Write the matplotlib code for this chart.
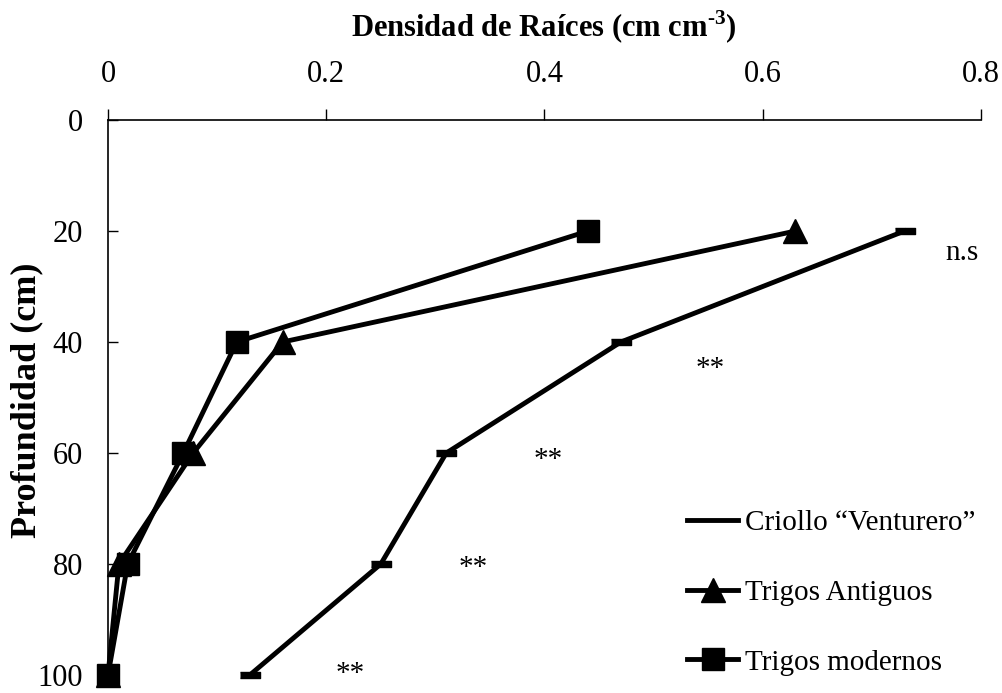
import matplotlib
matplotlib.use("Agg")
import matplotlib.pyplot as plt

# depth (cm) and root length density (cm cm-3)
depth = [20, 40, 60, 80, 100]
criollo = [0.73, 0.47, 0.31, 0.25, 0.13]
antiguos = [0.63, 0.16, 0.078, 0.01, 0.0]
modernos = [0.44, 0.118, 0.069, 0.018, 0.0]

# significance labels next to each depth
sig_labels = ["n.s", "**", "**", "**", "**"]
sig_x = [0.783, 0.552, 0.403, 0.335, 0.222]
sig_y = [24.0, 44.8, 61.3, 80.8, 99.8]

plt.rcParams['font.family'] = ['Liberation Serif', 'DejaVu Serif']

fig = plt.figure(figsize=(10.03, 6.93), dpi=100)
ax = fig.add_axes([0.1077, 0.026, 0.978 - 0.1077, 0.8268 - 0.026])

# flat dash marker for the criollo series
dash = [(-1.5, -0.5), (1.5, -0.5), (1.5, 0.5), (-1.5, 0.5)]

ax.plot(criollo, depth, color='black', lw=3.5, marker=dash, ms=15,
        label='Criollo \u201cVenturero\u201d', clip_on=False)
ax.plot(antiguos, depth, color='black', lw=3.5, marker='^', ms=17,
        label='Trigos Antiguos', clip_on=False)
ax.plot(modernos, depth, color='black', lw=3.5, marker='s', ms=16,
        label='Trigos modernos', clip_on=False)

for lab, x, y in zip(sig_labels, sig_x, sig_y):
    ax.text(x, y, lab, fontsize=21, ha='center', va='center')

ax.set_xlim(0, 0.8)
ax.set_ylim(100, 0)
ax.set_xticks([0, 0.2, 0.4, 0.6, 0.8])
ax.set_xticklabels(['0', '0.2', '0.4', '0.6', '0.8'])
ax.set_yticks([0, 20, 40, 60, 80, 100])

ax.xaxis.tick_top()
ax.tick_params(axis='x', direction='out', length=8, width=1, pad=14, labelsize=22)
ax.tick_params(axis='y', direction='in', length=7, width=1, pad=18, labelsize=22)

ax.spines['right'].set_visible(False)
ax.spines['bottom'].set_visible(False)
ax.spines['top'].set_linewidth(1.2)
ax.spines['left'].set_linewidth(1.2)

fig.text(0.5425, 1 - 27 / 693, 'Densidad de Ra\u00edces (cm cm$^{\\mathregular{\u20103}}$)',
         fontsize=22, fontweight='bold', ha='center', va='center')
fig.text(27 / 1003, 1 - 400 / 693, 'Profundidad (cm)', fontsize=26,
         fontweight='bold', rotation=90, ha='center', va='center')

leg = ax.legend(loc='upper left', bbox_to_anchor=(687 / 1003, 1 - 510 / 693),
                bbox_transform=fig.transFigure, frameon=False, fontsize=21,
                handlelength=1.75, handletextpad=0.25, labelspacing=1.48,
                borderpad=0, borderaxespad=0, numpoints=1)
# the criollo dash is hidden under the line in the legend
leg.legend_handles[0].set_marker('')

fig.savefig('out.png', dpi=100)
